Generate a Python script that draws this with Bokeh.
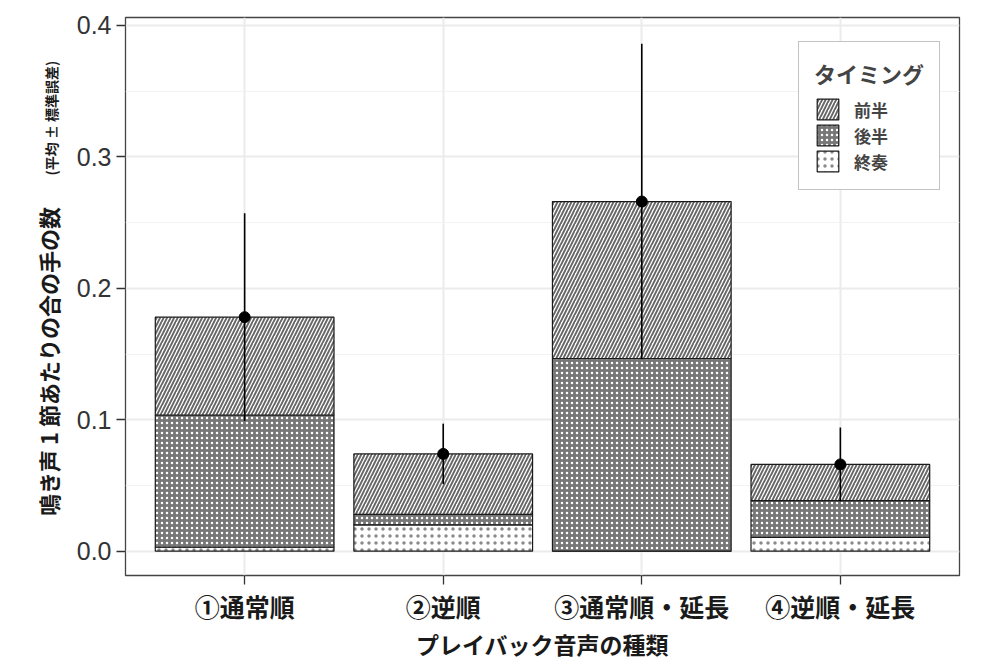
from bokeh.plotting import figure
from bokeh.models import (FactorRange, Range1d, FixedTicker, PrintfTickFormatter,
                          Legend, LegendItem, Label, ColumnDataSource)
from bokeh.layouts import row
from bokeh.embed import file_html
from bokeh.resources import INLINE
import math

categories = ["①通常順", "②逆順", "③通常順・延長", "④逆順・延長"]
finale = [0.003, 0.020, 0.0, 0.0105]      # 終奏
latter = [0.1006, 0.008, 0.1466, 0.028]   # 後半
former = [0.0744, 0.046, 0.1194, 0.0275]  # 前半
se = [0.079, 0.023, 0.120, 0.028]
y_ticks = [0.0, 0.1, 0.2, 0.3, 0.4]
y_minor = [0.05, 0.15, 0.25, 0.35]

mean = [a + b + c for a, b, c in zip(finale, latter, former)]
lo = [m - s for m, s in zip(mean, se)]
hi = [m + s for m, s in zip(mean, se)]

JP = "Noto Sans CJK JP"
H = 659
HP = 663
LW = 64

src = ColumnDataSource(dict(cat=categories, 終奏=finale, 後半=latter, 前半=former,
                            mean=mean, lo=lo, hi=hi))

p = figure(x_range=FactorRange(*categories, range_padding=0.1, range_padding_units="absolute"),
           y_range=Range1d(-0.0185, 0.406),
           width=992 - LW, height=HP, output_backend="svg", toolbar_location=None,
           min_border_left=125 - LW, min_border_right=33, min_border_top=17,
           min_border_bottom=HP - 577)

renderers = p.vbar_stack(["終奏", "後半", "前半"], x="cat", width=0.9, source=src,
                         fill_color=["white", "#777777", "white"],
                         hatch_pattern=[".", ".", "/"],
                         hatch_color=["#8a8a8a", "white", "#666666"],
                         hatch_scale=[7, 5, 7],
                         hatch_weight=[2.2, 1.6, 1.9],
                         line_color="#1a1a1a", line_width=1.2)

p.segment(x0="cat", x1="cat", y0="lo", y1="hi", source=src, line_color="black", line_width=1.6)
p.scatter(x="cat", y="mean", source=src, size=11, color="black")

legend = Legend(items=[LegendItem(label="前半", renderers=[renderers[2]]),
                       LegendItem(label="後半", renderers=[renderers[1]]),
                       LegendItem(label="終奏", renderers=[renderers[0]])],
                location=(673, 385), title="タイミング",
                title_text_font=JP, title_text_font_style="bold", title_text_font_size="22px",
                label_text_font=JP, label_text_font_style="bold", label_text_font_size="17px",
                glyph_width=27, glyph_height=26, label_height=26, spacing=0,
                label_standoff=13, padding=15, title_standoff=7, margin=0,
                border_line_color="#888888", border_line_width=1.2,
                background_fill_color="white", background_fill_alpha=1)
p.add_layout(legend, "center")

# frame & grid
p.outline_line_color = "#444444"
p.outline_line_width = 1.3
p.xgrid.grid_line_color = "#EBEBEB"
p.xgrid.grid_line_width = 2
p.ygrid.grid_line_color = "#EBEBEB"
p.ygrid.grid_line_width = 2
p.ygrid.minor_grid_line_color = "#F2F2F2"
p.ygrid.minor_grid_line_width = 1.2

p.yaxis.ticker = FixedTicker(ticks=y_ticks, minor_ticks=y_minor)
p.yaxis.formatter = PrintfTickFormatter(format="%.1f")
for ax in (p.xaxis[0], p.yaxis[0]):
    ax.axis_line_color = None
    ax.major_tick_line_color = "#333333"
    ax.major_tick_line_width = 1.3
    ax.major_tick_in = 0
    ax.major_tick_out = 9
    ax.minor_tick_line_color = None
p.yaxis.major_label_text_font = "Liberation Sans"
p.yaxis.major_label_text_font_size = "25px"
p.yaxis.major_label_text_color = "#333333"
p.yaxis.major_label_standoff = 5

p.xaxis.major_label_text_font = JP
p.xaxis.major_label_text_font_style = "bold"
p.xaxis.major_label_text_font_size = "25px"
p.xaxis.major_label_text_color = "#1a1a1a"
p.xaxis.major_label_standoff = 3
p.xaxis.axis_label = "プレイバック音声の種類"
p.xaxis.axis_label_text_font = JP
p.xaxis.axis_label_text_font_style = "bold"
p.xaxis.axis_label_text_font_size = "23px"
p.xaxis.axis_label_text_color = "#1a1a1a"
p.xaxis.axis_label_standoff = 0

# left strip carrying the y-axis title (two text sizes on one line)
q = figure(width=LW, height=H, x_range=Range1d(0, LW), y_range=Range1d(0, H),
           output_backend="svg", toolbar_location=None,
           min_border_left=0, min_border_right=0, min_border_top=0, min_border_bottom=0)
q.axis.visible = False
q.grid.visible = False
q.outline_line_color = None
q.add_layout(Label(x=47, y=66, angle=math.pi / 2,
                   text="鳴き声 1 節あたりの合の手の数", text_font=JP, text_font_style="bold",
                   text_font_size="22px", text_color="#1a1a1a",
                   text_align="left", text_baseline="middle"))
q.add_layout(Label(x=50, y=471, angle=math.pi / 2,
                   text="(平均 ± 標準誤差)", text_font=JP, text_font_style="bold",
                   text_font_size="14px", text_color="#1a1a1a",
                   text_align="left", text_baseline="middle"))

layout = row(q, p, spacing=0)
open("out.html", "w").write(file_html(layout, INLINE))
